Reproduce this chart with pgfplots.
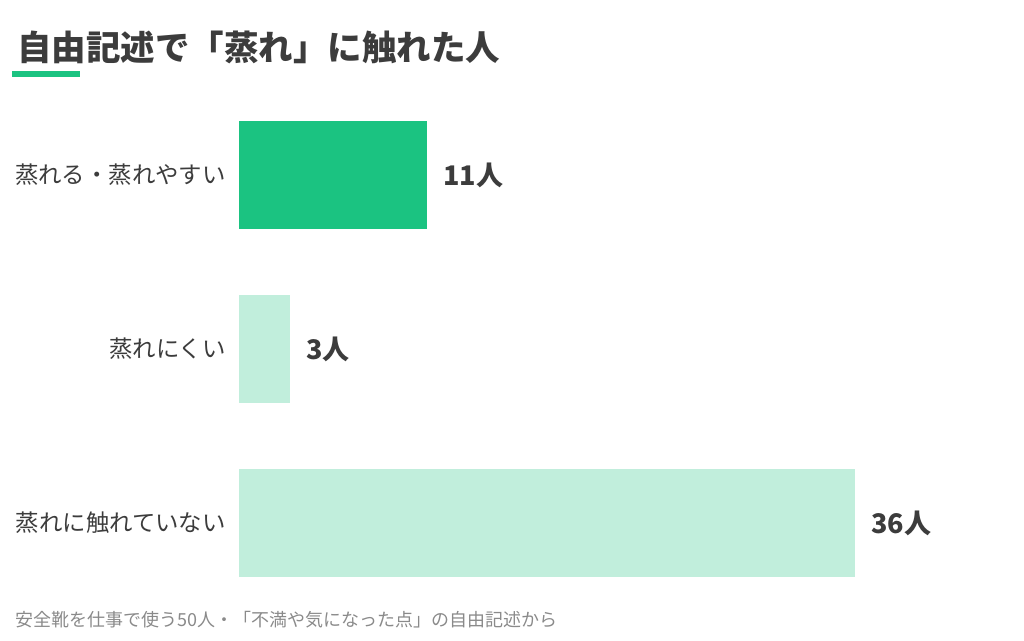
\documentclass[border=0pt]{standalone}
\usepackage{pgfplots}
\pgfplotsset{compat=1.18}
\usepackage{fontspec}
\setmainfont{Noto Sans CJK JP}
\definecolor{textdark}{HTML}{3C3C3C}
\definecolor{textgray}{HTML}{8A8A8A}
\definecolor{barmain}{HTML}{1BC381}
\definecolor{barlight}{HTML}{C1EEDC}
\begin{document}
\begin{tikzpicture}
\path[use as bounding box] (0,0) rectangle (1024pt,640pt);
% title and underline
\node[anchor=west, inner sep=0, text=textdark, font=\fontsize{34.5pt}{38pt}\selectfont\bfseries]
  at (17pt,593pt) {自由記述で「蒸れ」に触れた人};
\fill[barmain] (12pt,563pt) rectangle (80pt,569pt);
\begin{axis}[
    at={(239pt,30pt)}, anchor=south west,
    scale only axis,
    width=616pt, height=522pt,
    xbar, bar width=108pt, bar shift=0pt,
    xmin=0, xmax=36,
    ymin=-0.5, ymax=2.5, y dir=reverse,
    axis line style={draw=none},
    xtick=\empty,
    ytick={0,1,2},
    yticklabels={蒸れる・蒸れやすい, 蒸れにくい, 蒸れに触れていない},
    major tick length=0pt,
    yticklabel style={font=\fontsize{23.4pt}{27pt}\selectfont, text=textdark,
      anchor=east, inner sep=0pt, xshift=-13pt},
    clip=false,
    /pgf/number format/assume math mode=true,
    nodes near coords={\pgfmathprintnumber{\pgfplotspointmeta}人},
    point meta=x,
    nodes near coords style={anchor=west, inner sep=0pt, xshift=16pt,
      text=textdark, font=\fontsize{27pt}{31pt}\selectfont\bfseries},
]
\addplot[draw=none, fill=barmain] coordinates {(11,0)};
\addplot[draw=none, fill=barlight] coordinates {(3,1)};
\addplot[draw=none, fill=barlight] coordinates {(36,2)};
\end{axis}
% source note
\node[anchor=west, inner sep=0, text=textgray, font=\fontsize{18pt}{21pt}\selectfont]
  at (15pt,20pt) {安全靴を仕事で使う50人・「不満や気になった点」の自由記述から};
\end{tikzpicture}
\end{document}
